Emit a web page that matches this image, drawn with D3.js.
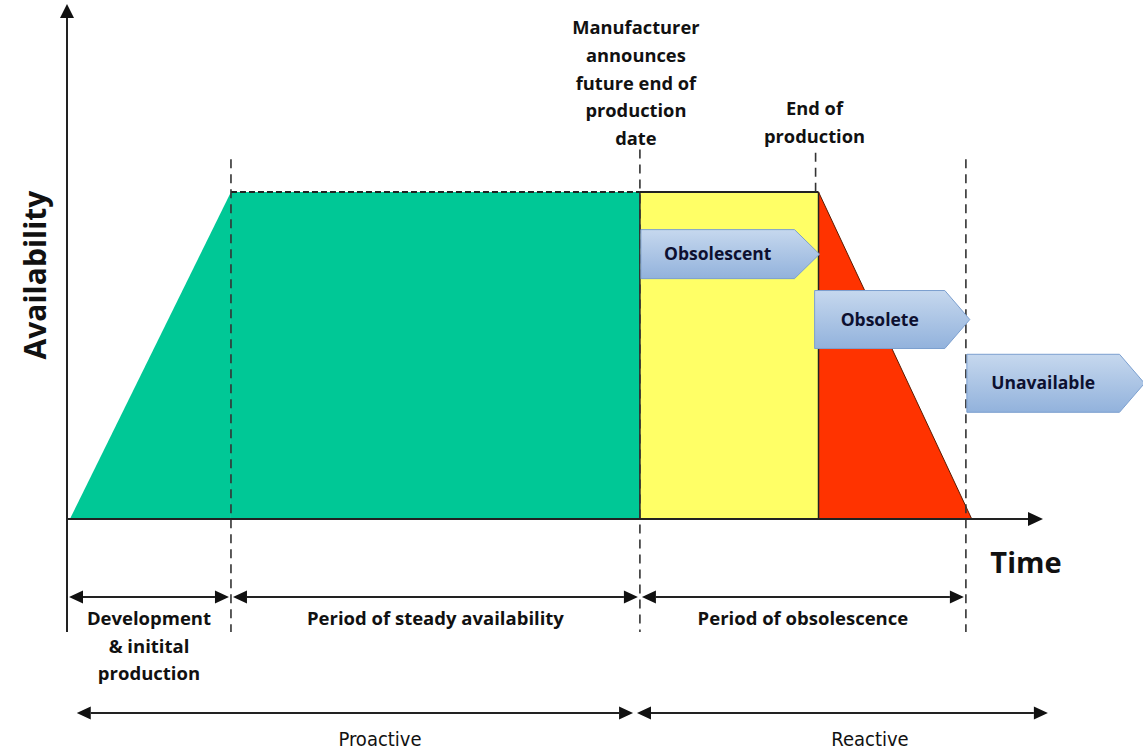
<!DOCTYPE html>
<html>
<head>
<meta charset="utf-8">
<script src="https://cdn.jsdelivr.net/npm/d3@7"></script>
<style>
  body { margin: 0; background: #fff; }
  text { font-family: "Open Sans", Lato, sans-serif; font-weight: bold; fill: #111; }
</style>
</head>
<body>
<div id="chart"></div>
<script>
var svgWidth = 1143;
var svgHeight = 750;

// time points (arbitrary units 0..100) where the lifecycle changes
var phaseNames = ['ramp', 'steady', 'obsolescent', 'obsolete'];
var phaseStart = [0.3, 16.8, 58.7, 77.0];
var phaseEnd = [16.8, 58.7, 77.0, 92.7];
var phaseColors = ['#00c896', '#00c896', '#ffff66', '#ff3300'];

// availability at each end of a phase
var availStart = [0, 1, 1, 1];
var availEnd = [1, 1, 1, 0];

// dashed markers
var markerTimes = [16.8, 58.7, 76.7, 92.1];
var markerTop = [1.1, 1.13, 1.12, 1.1];
var markerLong = [true, true, false, true];

// status arrows
var statusLabels = ['Obsolescent', 'Obsolete', 'Unavailable'];
var statusFrom = [58.8, 76.6, 92.2];
var statusTo = [77.1, 92.5, 110.4];
var statusLevel = [0.81, 0.61, 0.415];

// bottom periods
var periodLabels = [['Development', '& initital', 'production'], ['Period of steady availability'], ['Period of obsolescence']];
var periodFrom = [0, 16.8, 58.7];
var periodTo = [16.8, 58.7, 92.1];

var approachLabels = ['Proactive', 'Reactive'];
var approachFrom = [1.0, 58.4];
var approachTo = [58.0, 100.5];

var announceText = ['Manufacturer', 'announces', 'future end of', 'production', 'date'];
var endText = ['End of', 'production'];

var x = d3.scaleLinear().domain([0, 100]).range([67, 1043]);
var y = d3.scaleLinear().domain([0, 1]).range([519, 192]);

var svg = d3.select('#chart').append('svg')
    .attr('width', svgWidth)
    .attr('height', svgHeight);

var defs = svg.append('defs');
var grad = defs.append('linearGradient')
    .attr('id', 'arrowfill')
    .attr('x1', 0).attr('y1', 0).attr('x2', 0).attr('y2', 1);
grad.append('stop').attr('offset', '0%').attr('stop-color', '#c6d8ee');
grad.append('stop').attr('offset', '100%').attr('stop-color', '#92b2dc');

// phase areas
svg.selectAll('path.phase')
    .data(phaseNames)
    .enter()
    .append('path')
    .attr('class', 'phase')
    .attr('fill', (d, i) => phaseColors[i])
    .attr('d', (d, i) => {
        var x0 = x(phaseStart[i]), x1 = x(phaseEnd[i]);
        return 'M' + x0 + ',' + y(0) + 'L' + x0 + ',' + y(availStart[i]) +
            'L' + x1 + ',' + y(availEnd[i]) + 'L' + x1 + ',' + y(0) + 'Z';
    });

// outline along the top and edges of the yellow block
svg.append('line')
    .attr('x1', x(phaseStart[1])).attr('x2', x(phaseEnd[1]))
    .attr('y1', y(1)).attr('y2', y(1))
    .attr('stroke', '#222').attr('stroke-width', 2).attr('stroke-dasharray', '6,3');
svg.append('line')
    .attr('x1', x(phaseStart[2])).attr('x2', x(phaseEnd[2]))
    .attr('y1', y(1)).attr('y2', y(1))
    .attr('stroke', '#222').attr('stroke-width', 2);
[phaseStart[2], phaseEnd[2]].forEach(t => {
    svg.append('line')
        .attr('x1', x(t)).attr('x2', x(t))
        .attr('y1', y(1)).attr('y2', y(0))
        .attr('stroke', '#222').attr('stroke-width', 1.5);
});
// red slope outline
svg.append('line')
    .attr('x1', x(phaseStart[3])).attr('x2', x(phaseEnd[3]))
    .attr('y1', y(1)).attr('y2', y(0))
    .attr('stroke', '#5a1a00').attr('stroke-width', 1);

// dashed vertical markers
svg.selectAll('line.marker')
    .data(markerTimes)
    .enter()
    .append('line')
    .attr('class', 'marker')
    .attr('x1', d => x(d)).attr('x2', d => x(d))
    .attr('y1', (d, i) => y(markerTop[i]))
    .attr('y2', (d, i) => markerLong[i] ? 632 : y(1))
    .attr('stroke', '#333').attr('stroke-width', 1.6)
    .attr('stroke-dasharray', '9,6');

// axes
svg.append('line')
    .attr('x1', 67).attr('x2', 67).attr('y1', 18).attr('y2', 632)
    .attr('stroke', '#222').attr('stroke-width', 2);
svg.append('path')
    .attr('d', 'M67,4L60,18L74,18Z').attr('fill', '#111');
svg.append('line')
    .attr('x1', 67).attr('x2', x(100) - 14).attr('y1', y(0)).attr('y2', y(0))
    .attr('stroke', '#222').attr('stroke-width', 2);
svg.append('path')
    .attr('d', 'M' + x(100) + ',' + y(0) + 'l-15,-7l0,14Z').attr('fill', '#111');

svg.append('text')
    .attr('transform', 'translate(46,275) rotate(-90)')
    .attr('text-anchor', 'middle')
    .style('font-size', '30px')
    .text('Availability');
svg.append('text')
    .attr('x', 1026).attr('y', 573)
    .attr('text-anchor', 'middle')
    .style('font-size', '29px')
    .text('Time');

// status arrows
var statusG = svg.selectAll('g.status')
    .data(statusLabels)
    .enter()
    .append('g')
    .attr('class', 'status');
statusG.append('path')
    .attr('fill', 'url(#arrowfill)')
    .attr('stroke', '#7b9fcf').attr('stroke-width', 1)
    .attr('d', (d, i) => {
        var x0 = x(statusFrom[i]), x1 = x(statusTo[i]), yc = y(statusLevel[i]);
        var h = i == 0 ? 49 : 58;
        return 'M' + x0 + ',' + (yc - h / 2) + 'L' + (x1 - 25) + ',' + (yc - h / 2) +
            'L' + x1 + ',' + yc + 'L' + (x1 - 25) + ',' + (yc + h / 2) +
            'L' + x0 + ',' + (yc + h / 2) + 'Z';
    });
statusG.append('text')
    .attr('x', (d, i) => (x(statusFrom[i]) + x(statusTo[i]) - 25) / 2)
    .attr('y', (d, i) => y(statusLevel[i]) + 6)
    .attr('text-anchor', 'middle')
    .style('font-size', '17.5px')
    .style('fill', '#0d1030')
    .text(d => d);

// top annotations
svg.append('text')
    .attr('text-anchor', 'middle')
    .style('font-size', '18.3px')
    .selectAll('tspan')
    .data(announceText)
    .enter()
    .append('tspan')
    .attr('x', x(phaseStart[2]) - 4)
    .attr('y', (d, i) => 34 + i * 27.8)
    .text(d => d);
svg.append('text')
    .attr('text-anchor', 'middle')
    .style('font-size', '18.3px')
    .selectAll('tspan')
    .data(endText)
    .enter()
    .append('tspan')
    .attr('x', x(phaseEnd[2]) - 4)
    .attr('y', (d, i) => 115 + i * 27.8)
    .text(d => d);

// double arrow helper
function doubleArrow(x0, x1, yy, head) {
    svg.append('line')
        .attr('x1', x0 + head).attr('x2', x1 - head).attr('y1', yy).attr('y2', yy)
        .attr('stroke', '#222').attr('stroke-width', 2);
    svg.append('path')
        .attr('fill', '#111')
        .attr('d', 'M' + x0 + ',' + yy + 'l' + head + ',-6.5l0,13Z' +
            'M' + x1 + ',' + yy + 'l-' + head + ',-6.5l0,13Z');
}

periodLabels.forEach((lines, i) => {
    var x0 = x(periodFrom[i]) + 2, x1 = x(periodTo[i]) - 2;
    doubleArrow(x0, x1, 597, 14);
    svg.append('text')
        .attr('text-anchor', 'middle')
        .style('font-size', '18.5px')
        .selectAll('tspan')
        .data(lines)
        .enter()
        .append('tspan')
        .attr('x', (x0 + x1) / 2)
        .attr('y', (d, j) => 625 + j * 27.5)
        .text(d => d);
});

approachLabels.forEach((lab, i) => {
    var x0 = x(approachFrom[i]), x1 = x(approachTo[i]);
    doubleArrow(x0, x1, 713, 14);
    svg.append('text')
        .attr('x', i == 0 ? 380 : 870)
        .attr('y', 746)
        .attr('text-anchor', 'middle')
        .style('font-family', '"Liberation Sans Narrow", "DejaVu Sans Condensed", sans-serif')
        .style('font-stretch', 'condensed')
        .style('font-weight', 'normal')
        .style('font-size', '20px')
        .text(lab);
});
</script>
</body>
</html>
